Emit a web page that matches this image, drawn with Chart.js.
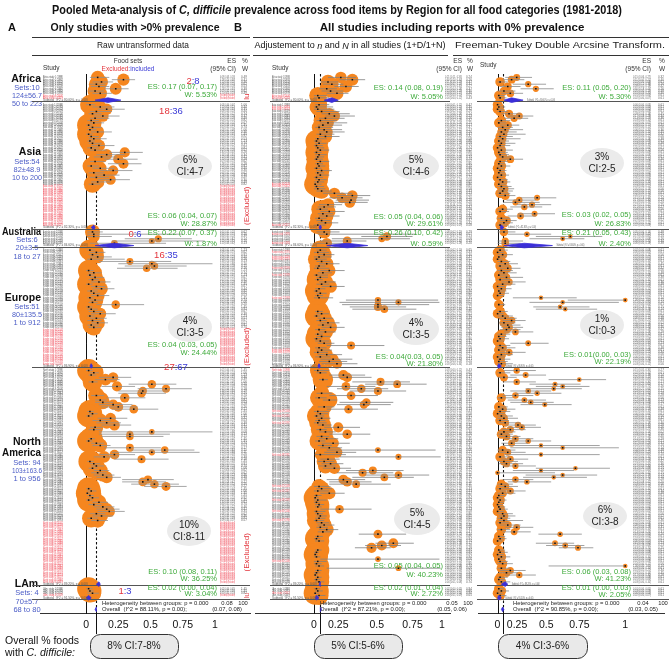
<!DOCTYPE html>
<html><head><meta charset="utf-8">
<script src="https://cdn.jsdelivr.net/npm/chart.js@4.4.1/dist/chart.umd.min.js"></script>
<style>
html,body{margin:0;padding:0;background:#fff}
#wrap{position:relative;width:669px;height:661px;overflow:hidden;background:#fff}
canvas{position:absolute;left:0;top:0}
</style></head><body>
<div id="wrap">
<canvas id="cT" width="669" height="661"></canvas>
<canvas id="cA" width="669" height="661"></canvas>
<canvas id="cB" width="669" height="661"></canvas>
<canvas id="cF" width="669" height="661"></canvas>
</div>
<script>
// ================= DATA =================
const regions = ['Africa','Asia','Australia','Europe','North America','LAm.'];
const regionStats = [['Sets:10','124±56.7','50 to 223'],['Sets:54','82±48.9','10 to 200'],['Sets:6','20±3.5','18 to 27'],['Sets:51','80±135.5','1 to 912'],['Sets: 94','103±163.6','1 to 956'],['Sets: 4','70±5.7','68 to 80']];
const tickLabels = ['0','0.25','0.5','0.75','1'];

// Panel A: raw data, included studies [ES, lower, upper]; excluded counts per region
const excludedA = [2,18,0,16,27,1];
const afrA = [[0.09,0.03,0.18],[0.29,0.20,0.38],[0.12,0.05,0.21],[0.08,0.03,0.15],[0.10,0.04,0.18],[0.23,0.14,0.33],[0.07,0.02,0.14],[0.11,0.05,0.20]];
const asiaA = [[0.03,0.00,0.07],[0.11,0.05,0.22],[0.16,0.09,0.30],[0.08,0.03,0.20],[0.05,0.02,0.12],[0.13,0.06,0.26],[0.07,0.03,0.18],[0.04,0.01,0.10],[0.06,0.03,0.14],[0.02,0.00,0.05],
 [0.05,0.02,0.12],[0.03,0.01,0.08],[0.09,0.04,0.20],[0.02,0.00,0.05],[0.04,0.02,0.10],[0.06,0.02,0.16],[0.03,0.01,0.07],[0.05,0.02,0.12],[0.10,0.04,0.22],[0.04,0.01,0.10],
 [0.07,0.03,0.16],[0.30,0.18,0.44],[0.16,0.08,0.30],[0.12,0.06,0.24],[0.25,0.14,0.40],[0.07,0.03,0.15],[0.29,0.17,0.43],[0.04,0.01,0.10],[0.11,0.05,0.22],[0.21,0.11,0.36],
 [0.06,0.02,0.14],[0.14,0.07,0.26],[0.08,0.03,0.18],[0.19,0.09,0.34],[0.09,0.04,0.19],[0.05,0.02,0.11]];
const ausA = [[0.05,0.01,0.13],[0.06,0.01,0.75],[0.06,0.01,0.20],[0.56,0.30,0.82],[0.51,0.20,0.92],[0.22,0.03,0.62]];
const eurA = [[0.03,0.01,0.07],[0.08,0.03,0.15],[0.05,0.02,0.10],[0.09,0.03,0.20],[0.04,0.01,0.30],[0.34,0.10,0.66],[0.51,0.25,0.98],[0.53,0.30,0.78],[0.47,0.24,0.71],[0.02,0.00,0.06],
 [0.06,0.02,0.12],[0.03,0.01,0.07],[0.07,0.03,0.14],[0.05,0.02,0.10],[0.10,0.04,0.19],[0.02,0.00,0.05],[0.08,0.04,0.15],[0.12,0.05,0.22],[0.04,0.01,0.09],[0.06,0.03,0.11],
 [0.09,0.04,0.18],[0.03,0.01,0.06],[0.07,0.03,0.13],[0.05,0.02,0.09],[0.23,0.08,0.45],[0.02,0.00,0.05],[0.04,0.01,0.09],[0.06,0.02,0.13],[0.11,0.04,0.23],[0.03,0.01,0.07],
 [0.08,0.03,0.16],[0.05,0.01,0.12],[0.09,0.04,0.17],[0.04,0.01,0.10],[0.06,0.02,0.12]];
const naA = [[0.02,0.00,0.05],[0.06,0.03,0.10],[0.04,0.02,0.08],[0.21,0.10,0.35],[0.15,0.07,0.26],[0.05,0.02,0.09],[0.51,0.33,0.70],[0.24,0.12,0.38],[0.62,0.40,0.82],[0.44,0.25,0.64],
 [0.43,0.25,0.62],[0.08,0.04,0.14],[0.30,0.16,0.46],[0.11,0.07,0.16],[0.13,0.07,0.21],[0.21,0.10,0.36],[0.25,0.12,0.40],[0.37,0.20,0.56],[0.03,0.01,0.06],[0.05,0.02,0.09],
 [0.02,0.00,0.05],[0.19,0.09,0.32],[0.11,0.05,0.19],[0.16,0.08,0.27],[0.22,0.12,0.35],[0.07,0.03,0.13],[0.06,0.02,0.12],[0.51,0.10,0.98],[0.34,0.10,0.65],[0.34,0.12,0.60],
 [0.04,0.02,0.07],[0.02,0.00,0.05],[0.08,0.04,0.14],[0.11,0.05,0.19],[0.34,0.14,0.58],[0.61,0.35,0.84],[0.51,0.20,0.88],[0.22,0.10,0.38],[0.14,0.06,0.25],[0.43,0.22,0.64],
 [0.03,0.01,0.06],[0.06,0.03,0.11],[0.08,0.04,0.14],[0.05,0.02,0.09],[0.11,0.06,0.18],[0.09,0.04,0.16],[0.13,0.06,0.22],[0.16,0.08,0.27],[0.48,0.28,0.68],[0.44,0.28,0.62],
 [0.53,0.35,0.72],[0.62,0.45,0.78],[0.02,0.00,0.04],[0.04,0.01,0.08],[0.01,0.00,0.03],[0.03,0.01,0.06],[0.05,0.02,0.10],[0.02,0.00,0.05],[0.10,0.05,0.17],[0.06,0.02,0.12],
 [0.13,0.06,0.22],[0.16,0.08,0.26],[0.18,0.09,0.30],[0.08,0.03,0.15],[0.12,0.05,0.21],[0.04,0.01,0.09],[0.09,0.04,0.17]];
const lamA = [[0.02,0.00,0.05],[0.03,0.01,0.06],[0.05,0.01,0.10]];

// Panel B1: adjusted (1+D)/(1+N), all studies [ES, lower, upper, zeroPrevalenceFlag]
const afrB = [[0.21,0.11,0.33,0],[0.30,0.20,0.40,0],[0.11,0.05,0.19,0],[0.14,0.07,0.23,0],[0.25,0.16,0.35,0],[0.10,0.04,0.18,0],[0.13,0.06,0.23,0],[0.18,0.10,0.27,0],[0.03,0.00,0.10,1],[0.04,0.00,0.12,1]];
const asiaB = [[0.04,0.01,0.12,0],[0.02,0.00,0.15,1],[0.03,0.00,0.16,1],[0.06,0.02,0.20,0],[0.12,0.06,0.28,0],[0.16,0.09,0.32,0],[0.09,0.04,0.24,0],[0.05,0.02,0.18,0],[0.11,0.05,0.26,0],[0.07,0.03,0.22,0],
 [0.04,0.01,0.15,0],[0.08,0.03,0.22,0],[0.10,0.04,0.24,0],[0.05,0.02,0.16,0],[0.09,0.04,0.20,0],[0.03,0.01,0.10,0],[0.02,0.00,0.06,0],[0.04,0.01,0.10,0],[0.02,0.00,0.07,0],[0.03,0.01,0.08,0],
 [0.05,0.02,0.12,0],[0.02,0.00,0.06,0],[0.04,0.01,0.10,0],[0.03,0.01,0.08,0],[0.02,0.00,0.07,0],[0.05,0.02,0.12,0],[0.03,0.01,0.07,0],[0.04,0.02,0.09,0],[0.02,0.00,0.06,0],[0.06,0.02,0.14,0],
 [0.03,0.01,0.08,0],[0.05,0.02,0.12,0],[0.02,0.00,0.07,0],[0.04,0.01,0.10,0],[0.03,0.00,0.08,0],[0.01,0.00,0.06,1],[0.02,0.00,0.08,1],[0.03,0.00,0.09,0],[0.06,0.02,0.14,0],[0.16,0.07,0.30,0],
 [0.30,0.18,0.44,0],[0.22,0.12,0.38,0],[0.29,0.17,0.43,0],[0.28,0.16,0.42,0],[0.11,0.04,0.22,0],[0.08,0.03,0.17,0],[0.05,0.02,0.11,0],[0.12,0.05,0.24,0],[0.07,0.03,0.15,0],[0.10,0.04,0.20,0],
 [0.04,0.01,0.10,0],[0.06,0.02,0.13,0],[0.09,0.03,0.19,0],[0.03,0.00,0.09,1]];
const ausB = [[0.08,0.02,0.20,0],[0.10,0.03,0.80,1],[0.57,0.37,0.77,0],[0.53,0.14,0.75,0],[0.26,0.05,0.41,0],[0.10,0.02,0.28,1]];
const eurB = [[0.05,0.02,0.10,0],[0.03,0.00,0.12,1],[0.08,0.03,0.16,0],[0.04,0.00,0.14,1],[0.02,0.00,0.10,1],[0.06,0.02,0.13,0],[0.10,0.04,0.20,0],[0.04,0.01,0.09,0],[0.03,0.00,0.12,1],[0.12,0.05,0.24,0],
 [0.07,0.03,0.14,0],[0.02,0.00,0.11,1],[0.05,0.02,0.11,0],[0.03,0.01,0.07,0],[0.09,0.04,0.17,0],[0.06,0.02,0.12,0],[0.13,0.06,0.24,0],[0.04,0.01,0.09,0],[0.02,0.00,0.05,0],[0.05,0.02,0.10,0],
 [0.03,0.01,0.07,0],[0.04,0.00,0.15,1],[0.50,0.25,0.97,0],[0.66,0.20,0.98,0],[0.50,0.22,0.90,0],[0.50,0.28,0.72,0],[0.55,0.30,0.80,0],[0.03,0.01,0.07,0],[0.06,0.02,0.12,0],[0.02,0.00,0.05,0],
 [0.08,0.03,0.15,0],[0.05,0.02,0.10,0],[0.11,0.05,0.20,0],[0.07,0.03,0.14,0],[0.13,0.06,0.24,0],[0.04,0.01,0.09,0],[0.09,0.04,0.17,0],[0.03,0.01,0.07,0],[0.06,0.02,0.13,0],[0.02,0.00,0.06,0],
 [0.05,0.01,0.12,0],[0.08,0.03,0.16,0],[0.29,0.10,0.55,0],[0.04,0.01,0.10,0],[0.06,0.02,0.14,1],[0.03,0.00,0.11,1],[0.10,0.03,0.22,0],[0.05,0.01,0.13,0],[0.15,0.05,0.30,0],[0.12,0.04,0.26,0],
 [0.18,0.06,0.34,0]];
const naB = [[0.03,0.00,0.12,1],[0.05,0.02,0.10,0],[0.23,0.12,0.40,0],[0.26,0.14,0.45,0],[0.07,0.04,0.11,0],[0.52,0.30,0.75,0],[0.65,0.40,0.88,0],[0.25,0.10,0.48,0],[0.37,0.18,0.58,0],[0.50,0.28,0.72,0],
 [0.06,0.02,0.14,0],[0.29,0.12,0.50,0],[0.04,0.01,0.10,0],[0.12,0.07,0.18,0],[0.41,0.20,0.62,0],[0.39,0.18,0.60,0],[0.08,0.03,0.16,0],[0.27,0.10,0.50,0],[0.03,0.00,0.12,1],[0.05,0.02,0.11,0],
 [0.02,0.00,0.08,1],[0.06,0.02,0.13,0],[0.04,0.01,0.09,0],[0.03,0.00,0.10,1],[0.07,0.03,0.14,0],[0.19,0.08,0.36,0],[0.05,0.02,0.10,0],[0.09,0.04,0.17,0],[0.26,0.12,0.44,0],[0.06,0.02,0.12,0],
 [0.10,0.04,0.19,0],[0.04,0.01,0.09,0],[0.15,0.06,0.28,0],[0.07,0.03,0.14,0],[0.12,0.05,0.22,0],[0.50,0.10,0.95,0],[0.18,0.08,0.33,0],[0.05,0.01,0.25,1],[0.66,0.20,0.99,0],[0.11,0.05,0.20,0],
 [0.08,0.03,0.16,0],[0.13,0.06,0.23,0],[0.09,0.04,0.17,0],[0.16,0.07,0.29,0],[0.46,0.25,0.70,0],[0.38,0.18,0.62,0],[0.66,0.40,0.90,0],[0.55,0.30,0.78,0],[0.23,0.10,0.40,0],[0.26,0.12,0.45,0],
 [0.33,0.12,0.60,0],[0.04,0.00,0.13,1],[0.06,0.02,0.14,0],[0.03,0.00,0.12,1],[0.12,0.05,0.24,0],[0.02,0.00,0.06,0],[0.01,0.00,0.04,0],[0.03,0.00,0.10,1],[0.02,0.00,0.05,0],[0.04,0.01,0.08,0],
 [0.03,0.01,0.06,0],[0.20,0.05,0.45,0],[0.02,0.00,0.09,1],[0.03,0.01,0.07,0],[0.05,0.02,0.10,0],[0.04,0.01,0.09,0],[0.02,0.00,0.08,1],[0.06,0.02,0.12,0],[0.08,0.03,0.16,0],[0.05,0.02,0.11,0],
 [0.10,0.04,0.19,0],[0.07,0.03,0.14,0],[0.50,0.35,0.72,0],[0.03,0.01,0.07,0],[0.02,0.00,0.05,0],[0.04,0.01,0.08,0],[0.62,0.48,0.78,0],[0.53,0.40,0.68,0],[0.45,0.32,0.60,0],[0.03,0.01,0.06,0],
 [0.02,0.00,0.04,0],[0.01,0.00,0.03,0],[0.02,0.00,0.05,0],[0.50,0.05,0.98,0],[0.03,0.00,0.10,1],[0.02,0.00,0.06,0],[0.04,0.01,0.08,0],[0.66,0.10,0.99,0],[0.03,0.01,0.06,0],[0.02,0.00,0.05,0],
 [0.01,0.00,0.03,0],[0.03,0.01,0.06,0],[0.02,0.00,0.05,0],[0.04,0.01,0.08,0]];
const lamB = [[0.02,0.00,0.05,0],[0.03,0.01,0.07,0],[0.01,0.00,0.04,1],[0.04,0.01,0.09,0]];

// Panel B2: Freeman-Tukey double arcsine, all studies [ES, lower, upper]
const afrF = [[0.15,0.06,0.27],[0.11,0.04,0.21],[0.02,0.00,0.08],[0.24,0.12,0.38],[0.08,0.02,0.18],[0.30,0.18,0.44],[0.05,0.00,0.14],[0.10,0.03,0.20],[0.01,0.00,0.06],[0.02,0.00,0.07]];
const asiaF = [[0.00,0.00,0.03],[0.01,0.00,0.06],[0.00,0.00,0.05],[0.02,0.00,0.08],[0.09,0.03,0.18],[0.17,0.08,0.28],[0.13,0.05,0.24],[0.03,0.00,0.10],[0.01,0.00,0.07],[0.08,0.02,0.17],
 [0.04,0.00,0.12],[0.06,0.01,0.20],[0.03,0.00,0.15],[0.05,0.01,0.22],[0.02,0.00,0.12],[0.04,0.00,0.18],[0.01,0.00,0.09],[0.03,0.00,0.14],[0.02,0.00,0.10],[0.00,0.00,0.06],
 [0.03,0.00,0.12],[0.01,0.00,0.08],[0.02,0.00,0.09],[0.04,0.01,0.11],[0.10,0.03,0.20],[0.02,0.00,0.08],[0.01,0.00,0.06],[0.03,0.00,0.10],[0.00,0.00,0.05],[0.02,0.00,0.07],
 [0.01,0.00,0.06],[0.03,0.00,0.09],[0.00,0.00,0.04],[0.02,0.00,0.08],[0.04,0.01,0.10],[0.01,0.00,0.07],[0.03,0.00,0.11],[0.05,0.01,0.13],[0.04,0.00,0.12],[0.02,0.00,0.10],
 [0.06,0.01,0.14],[0.31,0.18,0.46],[0.17,0.07,0.30],[0.14,0.05,0.33],[0.27,0.15,0.42],[0.21,0.10,0.35],[0.04,0.00,0.12],[0.02,0.00,0.09],[0.29,0.16,0.45],[0.18,0.08,0.30],
 [0.03,0.00,0.10],[0.07,0.02,0.15],[0.05,0.01,0.12],[0.02,0.00,0.08]];
const ausF = [[0.05,0.00,0.14],[0.23,0.08,0.42],[0.57,0.30,0.82],[0.51,0.25,0.68],[0.06,0.00,0.20],[0.06,0.00,0.18]];
const eurF = [[0.02,0.00,0.08],[0.00,0.00,0.05],[0.04,0.00,0.12],[0.01,0.00,0.07],[0.00,0.00,0.04],[0.03,0.00,0.10],[0.06,0.01,0.16],[0.02,0.00,0.09],[0.08,0.02,0.18],[0.03,0.00,0.12],
 [0.05,0.01,0.15],[0.01,0.00,0.08],[0.07,0.02,0.20],[0.02,0.00,0.10],[0.09,0.03,0.22],[0.04,0.00,0.14],[0.00,0.00,0.06],[0.03,0.00,0.11],[0.01,0.00,0.07],[0.02,0.00,0.09],
 [0.00,0.00,0.05],[0.34,0.12,0.62],[1.00,0.55,1.00],[0.51,0.25,0.95],[0.01,0.00,0.06],[0.49,0.28,0.72],[0.53,0.30,0.78],[0.02,0.00,0.08],[0.00,0.00,0.05],[0.04,0.00,0.12],
 [0.06,0.01,0.15],[0.11,0.04,0.22],[0.05,0.01,0.14],[0.08,0.02,0.18],[0.09,0.03,0.20],[0.07,0.02,0.18],[0.14,0.05,0.28],[0.03,0.00,0.10],[0.01,0.00,0.07],[0.02,0.00,0.09],
 [0.00,0.00,0.05],[0.24,0.10,0.40],[0.02,0.00,0.10],[0.04,0.00,0.14],[0.01,0.00,0.08],[0.09,0.02,0.22],[0.03,0.00,0.12],[0.00,0.00,0.06],[0.02,0.00,0.10],[0.01,0.00,0.08],
 [0.03,0.00,0.12]];
const naF = [[0.15,0.05,0.30],[0.02,0.00,0.10],[0.22,0.10,0.38],[0.05,0.00,0.15],[0.64,0.40,0.85],[0.15,0.05,0.30],[0.45,0.25,0.65],[0.51,0.30,0.72],[0.44,0.22,0.66],[0.24,0.10,0.42],
 [0.31,0.14,0.50],[0.14,0.04,0.28],[0.03,0.00,0.12],[0.21,0.08,0.38],[0.26,0.10,0.44],[0.37,0.18,0.58],[0.01,0.00,0.08],[0.04,0.00,0.14],[0.02,0.00,0.10],[0.00,0.00,0.06],
 [0.03,0.00,0.12],[0.05,0.00,0.16],[0.02,0.00,0.09],[0.06,0.01,0.18],[0.16,0.06,0.30],[0.19,0.08,0.34],[0.10,0.03,0.22],[0.05,0.01,0.14],[0.03,0.00,0.12],[0.07,0.01,0.18],
 [0.14,0.05,0.28],[0.24,0.10,0.42],[0.11,0.03,0.24],[0.34,0.05,0.80],[0.51,0.10,0.95],[0.04,0.00,0.14],[0.08,0.01,0.22],[0.34,0.05,0.80],[0.02,0.00,0.10],[0.10,0.03,0.24],
 [0.05,0.00,0.16],[0.07,0.01,0.20],[0.14,0.04,0.30],[0.61,0.30,0.88],[0.34,0.12,0.60],[0.00,0.00,0.45],[0.51,0.22,0.78],[0.44,0.20,0.70],[0.14,0.04,0.28],[0.23,0.08,0.42],
 [0.03,0.00,0.12],[0.06,0.01,0.16],[0.02,0.00,0.10],[0.10,0.02,0.22],[0.04,0.00,0.14],[0.01,0.00,0.06],[0.00,0.00,0.04],[0.02,0.00,0.07],[0.01,0.00,0.05],[0.00,0.00,0.04],
 [0.01,0.00,0.06],[0.02,0.00,0.08],[0.00,0.00,0.05],[0.04,0.00,0.12],[0.05,0.01,0.14],[0.03,0.00,0.10],[0.05,0.01,0.20],[0.02,0.00,0.09],[0.08,0.02,0.18],[0.15,0.06,0.28],
 [0.03,0.00,0.10],[0.13,0.04,0.26],[0.49,0.32,0.66],[0.01,0.00,0.06],[0.02,0.00,0.07],[0.00,0.00,0.04],[0.45,0.30,0.60],[0.53,0.38,0.68],[0.63,0.48,0.75],[0.01,0.00,0.06],
 [0.02,0.00,0.08],[0.00,0.00,0.05],[0.03,0.00,0.10],[0.01,0.00,0.06],[0.02,0.00,0.08],[0.04,0.00,0.12],[1.00,0.40,1.00],[0.03,0.00,0.10],[0.10,0.02,0.22],[0.07,0.01,0.16],
 [0.17,0.06,0.30],[0.02,0.00,0.08],[0.01,0.00,0.06],[0.03,0.00,0.10]];
const lamF = [[0.01,0.00,0.05],[0.03,0.00,0.09],[0.00,0.00,0.04],[0.02,0.00,0.07]];

// Subgroup pooled estimates [ES, lower, upper] and texts
const pooledA = [[0.17,0.07,0.27],[0.06,0.04,0.07],[0.22,0.07,0.37],[0.04,0.03,0.05],[0.10,0.08,0.11],[0.02,0.00,0.04]];
const pooledB = [[0.14,0.08,0.19],[0.05,0.04,0.06],[0.26,0.10,0.42],[0.04,0.03,0.05],[0.05,0.04,0.05],[0.02,0.01,0.04]];
const pooledF = [[0.11,0.05,0.20],[0.03,0.02,0.05],[0.21,0.05,0.43],[0.01,0.00,0.03],[0.06,0.03,0.08],[0.01,0.00,0.03]];
const overallA = [0.08,0.07,0.08], overallB = [0.05,0.05,0.06], overallF = [0.04,0.03,0.05];
const esTextA = ['ES: 0.17 (0.07, 0.17)','ES: 0.06 (0.04, 0.07)','ES: 0.22 (0.07, 0.37)','ES: 0.04 (0.03, 0.05)','ES: 0.10 (0.08, 0.11)','ES: 0.02 (0.00, 0.04)'];
const wTextA = ['W: 5.53%','W: 28.87%','W: 1.87%','W: 24.44%','W: 36.25%','W: 3.04%'];
const esTextB = ['ES: 0.14 (0.08, 0.19)','ES: 0.05 (0.04, 0.06)','ES: 0.26 (0.10, 0.42)','ES: 0.04(0.03, 0.05)','ES: 0.05 (0.04, 0.05)','ES: 0.02 (0.01, 0.04)'];
const wTextB = ['W: 5.05%','W: 29.61%','W: 0.59%','W: 21.80%','W: 40.23%','W: 2.72%'];
const esTextF = ['ES: 0.11 (0.05, 0.20)','ES: 0.03 (0.02, 0.05)','ES: 0.21 (0.05, 0.43)','ES: 0.01(0.00, 0.03)','ES: 0.06 (0.03, 0.08)','ES: 0.01 (0.00, 0.03)'];
const wTextF = ['W: 5.30%','W: 26.83%','W: 2.40%','W: 22.19%','W: 41.23%','W: 2.05%'];
const bubbleTextA = [['6%','CI:4-7'],['4%','CI:3-5'],['10%','CI:8-11']];
const bubbleTextB = [['5%','CI:4-6'],['4%','CI:3-5'],['5%','CI:4-5']];
const bubbleTextF = [['3%','CI:2-5'],['1%','CI:0-3'],['6%','CI:3-8']];
const overallBoxText = ['8% CI:7-8%','5% CI:5-6%','4% CI:3-6%'];
const i2Text = ['88.11','87.21','90.85'];
const overallCIText = ['(0.07, 0.08)','(0.05, 0.06)','(0.03, 0.05)'];
const overallESText = ['0.08','0.05','0.04'];

// ================= RENDERING =================
const FONT = '"Liberation Sans", Arial, Helvetica, sans-serif';
const F = (s, w) => (w ? w + ' ' : '') + s + 'px ' + FONT;
const ORANGE = '#f5861f', RED = '#e3343c', BLUE = '#3a3ad6', SBLUE = '#4b5cc6', GREEN = '#3daa3a', DIAM = '#3b2fd8';
const TOTAL_ROWS = 237.6, HET_ROW = 232.4, OVERALL_ROW = 235.6, TOP = 74;
Chart.defaults.font.family = 'Liberation Sans';

// draws text segments; targetW forces a width, maxW only shrinks
function rich(ctx, segs, x, y, align, targetW, maxW) {
  let total = 0;
  const ws = segs.map(s => { ctx.font = s.font; const w = ctx.measureText(s.t).width; total += w; return w; });
  let sc = targetW ? targetW / total : 1;
  if (maxW && total * sc > maxW) sc = maxW / total;
  const x0 = align === 'center' ? x - total * sc / 2 : align === 'right' ? x - total * sc : x;
  ctx.save(); ctx.translate(x0, y); ctx.scale(sc, 1); ctx.textBaseline = 'middle'; ctx.textAlign = 'left';
  let cx = 0;
  segs.forEach((s, i) => { ctx.font = s.font; ctx.fillStyle = s.color || '#111'; ctx.fillText(s.t, cx, 0); cx += ws[i]; });
  ctx.restore();
}
function txt(ctx, t, x, y, font, color, align, w, maxW) { rich(ctx, [{t, font, color}], x, y, align, w, maxW); }
function hline(ctx, x1, x2, y, col, lw) { ctx.save(); ctx.strokeStyle = col || '#333'; ctx.lineWidth = lw || 1; ctx.beginPath(); ctx.moveTo(x1, Math.round(y) + 0.5); ctx.lineTo(x2, Math.round(y) + 0.5); ctx.stroke(); ctx.restore(); }

// ---------- static text layer ----------
(function () {
  const c = document.getElementById('cT').getContext('2d');
  rich(c, [{t:'Pooled Meta-analysis of ', font:F(12,'bold')}, {t:'C, difficile', font:F(12,'italic bold')}, {t:' prevalence across food items by Region for all food categories (1981-2018)', font:F(12,'bold')}], 337, 11, 'center', 570);
  txt(c, 'A', 8, 28, F(11,'bold'), '#111', 'left');
  txt(c, 'Only studies with >0% prevalence', 135, 28, F(10.5,'bold'), '#111', 'center');
  txt(c, 'B', 234, 28, F(11,'bold'), '#111', 'left');
  txt(c, 'All studies including reports with 0% prevalence', 452, 28, F(11.5,'bold'), '#111', 'center');
  hline(c, 32, 250, 37); hline(c, 253, 669, 37);
  txt(c, 'Raw untransformed data', 143, 46, F(9), '#222', 'center', 92);
  rich(c, [{t:'Adjustement to ', font:F(9)}, {t:'n', font:F(9,'italic')}, {t:' and ', font:F(9)}, {t:'N', font:F(9,'italic')}, {t:' in all studies (1+D/1+N)', font:F(9)}], 350, 46, 'center', 191);
  txt(c, 'Freeman-Tukey Double Arcsine Transform.', 560, 46, F(9), '#222', 'center', 210);
  hline(c, 32, 250, 55); hline(c, 253, 448, 55); hline(c, 453, 669, 55);
  const hf = F(6.5);
  txt(c, 'Study', 43, 68, hf, '#333', 'left');
  txt(c, 'Food sets', 128, 61, hf, '#333', 'center');
  rich(c, [{t:'Excluded', font:hf, color:RED}, {t:':included', font:hf, color:BLUE}], 128, 69, 'center');
  txt(c, 'ES', 236, 61, hf, '#333', 'right'); txt(c, '(95% CI)', 236, 69, hf, '#333', 'right');
  txt(c, '%', 245, 61, hf, '#333', 'center'); txt(c, 'W', 245, 69, hf, '#333', 'center');
  txt(c, 'Study', 272, 68, hf, '#333', 'left');
  txt(c, 'ES', 462, 61, hf, '#333', 'right'); txt(c, '(95% CI)', 462, 69, hf, '#333', 'right');
  txt(c, '%', 470, 61, hf, '#333', 'center'); txt(c, 'W', 470, 69, hf, '#333', 'center');
  txt(c, 'Study', 480, 65, hf, '#333', 'left');
  txt(c, 'ES', 651, 61, hf, '#333', 'right'); txt(c, '(95% CI)', 651, 69, hf, '#333', 'right');
  txt(c, '%', 662, 61, hf, '#333', 'center'); txt(c, 'W', 662, 69, hf, '#333', 'center');
  const REG_LAB = [[['Africa'],[79],[88,96,104]], [['Asia'],[152],[162,170,178]], [['Australia'],[232],[240,248,257]],
                   [['Europe'],[298],[307,315,323]], [['North','America'],[442,453],[463,471,479]], [['LAm.'],[584],[593,602,610]]];
  REG_LAB.forEach((r, k) => {
    r[0].forEach((nm, j) => txt(c, nm, 41, r[1][j], F(10.5,'bold'), '#111', 'right', null, 39));
    regionStats[k].forEach((s, j) => txt(c, s, 27, r[2][j], F(7.5), SBLUE, 'center', null, 30));
  });
  txt(c, 'Overall % foods', 5, 641, F(10.5), '#111', 'left');
  rich(c, [{t:'with ', font:F(10.5)}, {t:'C. difficile:', font:F(10.5,'italic')}], 5, 653, 'left');
})();

// ---------- panels ----------
function buildRows(lists, excl) {
  let idx = 0; const rows = [], bounds = [], sum = [], exclRange = [];
  lists.forEach((list, k) => {
    idx++;
    list.forEach((d, i) => { rows.push({k, idx, d, n: i + 1}); idx++; });
    const e0 = idx;
    for (let e = 0; e < (excl ? excl[k] : 0); e++) { rows.push({k, idx, d: null, n: list.length + e + 1}); idx++; }
    exclRange.push([e0, idx]);
    sum.push(idx); idx++;
    bounds.push(idx);
  });
  return {rows, bounds, sum, exclRange};
}

function makePanel(P) {
  const R = buildRows(P.lists, P.excl);
  const bub = [], dots = [], ci = [];
  let wsum = 0;
  R.rows.forEach(r => {
    if (!r.d) return;
    const [es, lo, hi] = r.d; const yv = r.idx + 0.5;
    const rad = Math.min(P.rMax, Math.max(P.rMin, P.rK / Math.sqrt(Math.max(hi - lo, 0.01))));
    r.rad = rad; wsum += rad * rad;
    bub.push({x: es, y: yv, r: rad}); dots.push({x: es, y: yv});
    ci.push({x: lo, y: yv}, {x: hi, y: yv}, {x: null, y: null});
  });
  R.rows.forEach(r => { if (r.d) r.w = (100 * r.rad * r.rad / wsum).toFixed(2); });

  const plugin = {
    id: 'pp' + P.id,
    beforeDatasetsDraw(chart) {
      const c = chart.ctx, xs = chart.scales.x, ys = chart.scales.y, ca = chart.chartArea;
      c.save(); c.fillStyle = '#ebebeb';
      P.ellipses.forEach(e => { c.beginPath(); c.ellipse(e[0], e[1], e[2], e[3], 0, 0, Math.PI * 2); c.fill(); });
      c.restore();
      const x0 = Math.round(xs.getPixelForValue(0)) + 0.5;
      const xo = Math.round(xs.getPixelForValue(P.overall[0])) + 0.5;
      c.save(); c.strokeStyle = '#111'; c.lineWidth = 1;
      c.beginPath(); c.moveTo(x0, ca.top); c.lineTo(x0, ca.bottom); c.stroke();
      c.setLineDash([2.5, 2]); c.lineWidth = 1.1;
      c.beginPath(); c.moveTo(xo, ca.top); c.lineTo(xo, ys.getPixelForValue(OVERALL_ROW)); c.stroke();
      c.setLineDash([]); c.lineWidth = 1;
      c.beginPath(); c.moveTo(xo, ys.getPixelForValue(OVERALL_ROW)); c.lineTo(xo, P.box[1]); c.stroke();
      c.restore();
    },
    afterDatasetsDraw(chart) {
      const c = chart.ctx, xs = chart.scales.x, ys = chart.scales.y;
      const X = v => xs.getPixelForValue(v), Y = v => ys.getPixelForValue(v);
      R.bounds.forEach(b => hline(c, P.lineL, P.lineR, Y(b), '#555', 1));
      const diamond = (d, yc) => {
        c.save(); c.fillStyle = DIAM; c.beginPath();
        c.moveTo(X(d[1]), yc); c.lineTo(X(d[0]), yc - 2.3); c.lineTo(X(d[2]), yc); c.lineTo(X(d[0]), yc + 2.3); c.closePath(); c.fill();
        c.strokeStyle = DIAM; c.lineWidth = 0.8; c.stroke(); c.restore();
      };
      P.pooled.forEach((d, k) => {
        diamond(d, Y(R.sum[k] + 0.5));
        c.save(); c.font = F(3); c.fillStyle = '#555'; c.textBaseline = 'middle';
        const st = 'Subtotal  (I^2 = ' + (80 + k * 2.3).toFixed(2) + '%, p = 0.00)';
        if (P.labelX != null) c.fillText(st, P.labelX, Y(R.sum[k] + 0.5), 45);
        else c.fillText(st, X(d[2]) + 4, Y(R.sum[k] + 0.5), 28);
        c.restore();
      });
      diamond(P.overall, Y(OVERALL_ROW));
      c.save(); c.textBaseline = 'middle';
      R.rows.forEach(r => {
        const y = Y(r.idx + 0.5), d = r.d;
        const red = !d || d[3] === 1;
        if (P.labelX != null) {
          c.font = F(3.3); c.fillStyle = red ? '#ee4d5a' : '#555';
          c.fillText(regions[r.k].split(' ')[0] + ' study ' + r.n + ' (' + (1981 + (r.n * 7) % 38) + ')', P.labelX, y, P.labelW);
        }
        c.font = F(3.1);
        if (d) {
          c.fillStyle = '#666';
          c.fillText(d[0].toFixed(2) + ' (' + d[1].toFixed(2) + ', ' + d[2].toFixed(2) + ')', P.esX, y, P.esW);
          c.fillText(r.w, P.wX, y, P.wW);
        } else {
          c.fillStyle = '#ee4d5a';
          c.fillText('(Excluded) (Excluded)', P.esX, y, P.esW);
        }
      });
      c.restore();
      P.esText.forEach((t, k) => {
        txt(c, t, P.esRight, P.esY[k], F(7.5), GREEN, 'right');
        txt(c, P.wText[k], P.esRight, P.wY[k], F(7.5), GREEN, 'right');
      });
      P.ellipses.forEach((e, i) => {
        txt(c, P.bubbleText[i][0], e[0], e[1] - 6, F(10), '#222', 'center');
        txt(c, P.bubbleText[i][1], e[0], e[1] + 6.5, F(10), '#222', 'center');
      });
      (P.ratios || []).forEach((q, k) => {
        rich(c, [{t: String(excludedA[k]), font: F(9.5), color: RED}, {t: ':' + P.lists[k].length, font: F(9.5), color: BLUE}], q[0], q[1], 'center');
      });
      if (P.exclLabelX) {
        R.exclRange.forEach(er => {
          if (er[1] <= er[0]) return;
          const y1 = Y(er[0]) - 1, y2 = Y(er[1]) + 1;
          c.save(); c.beginPath(); c.rect(P.exclLabelX - 6, y1, 12, y2 - y1); c.clip();
          c.translate(P.exclLabelX, (y1 + y2) / 2); c.rotate(-Math.PI / 2);
          c.font = F(8); c.fillStyle = RED; c.textAlign = 'center'; c.textBaseline = 'middle';
          c.fillText('(Excluded)', 0, 0); c.restore();
        });
      }
      const hy = Y(HET_ROW + 0.5), oy = Y(OVERALL_ROW);
      txt(c, 'Heterogeneity between groups: p = 0.000', P.hetX, hy, F(5.8), '#222', 'left');
      txt(c, 'Overall  (I^2 = ' + i2Text[P.pi] + '%, p = 0.00);', P.hetX, oy, F(5.8), '#222', 'left');
      txt(c, overallESText[P.pi], P.ovES, hy, F(5.8), '#222', 'center');
      txt(c, '100', P.ovW, hy, F(5.8), '#222', 'center');
      txt(c, overallCIText[P.pi], P.ovES, oy, F(5.8), '#222', 'center');
      const [bx, by, bw, bh] = P.box;
      c.save(); c.beginPath(); c.roundRect(bx + 0.5, by + 0.5, bw, bh, 10); c.fillStyle = '#e9e9e9'; c.fill();
      c.strokeStyle = '#333'; c.lineWidth = 1; c.stroke(); c.restore();
      txt(c, overallBoxText[P.pi], bx + bw / 2, by + bh / 2 + 0.5, F(10), '#222', 'center');
    }
  };

  new Chart(document.getElementById(P.id), {
    type: 'bubble',
    data: { datasets: [
      {type: 'scatter', data: dots, pointStyle: 'rect', pointRadius: 1.1, backgroundColor: '#111', borderWidth: 0, order: 0, clip: false},
      {type: 'line', data: ci, borderColor: P.ciColor, borderWidth: 0.8, pointRadius: 0, spanGaps: false, fill: false, order: 1, clip: false},
      {type: 'bubble', data: bub, backgroundColor: ORANGE, borderWidth: 0, order: 2, clip: false}
    ]},
    options: {
      responsive: false, animation: false, events: [],
      layout: {padding: {left: P.padL, right: P.padR, top: TOP, bottom: 24.5}},
      plugins: {legend: {display: false}, tooltip: {enabled: false}},
      scales: {
        x: {type: 'linear', min: P.xMin, max: P.xMax,
            grid: {display: false, drawTicks: false}, border: {display: true, color: '#333', width: 1},
            afterBuildTicks: s => { s.ticks = P.ticks.map(v => ({value: v})); },
            ticks: {autoSkip: false, maxRotation: 0, padding: 5, color: '#111', font: {size: 10.5, family: 'Liberation Sans'},
                    callback: (v, i) => tickLabels[i]}},
        y: {type: 'linear', reverse: true, min: 0, max: TOTAL_ROWS, display: false}
      }
    },
    plugins: [plugin]
  });
}

makePanel({id: 'cA', pi: 0, lists: [afrA, asiaA, ausA, eurA, naA, lamA], excl: excludedA,
  xMin: -0.357, xMax: 1.271, padL: 40, padR: 419, ticks: [0, 0.25, 0.5, 0.75, 1],
  rK: 2.6, rMin: 2, rMax: 11.5, ciColor: '#8f8f8f',
  labelX: 43, labelW: 20, esX: 220, esW: 15, wX: 241, wW: 7, lineL: 32, lineR: 250,
  pooled: pooledA, overall: overallA, esText: esTextA, wText: wTextA, esRight: 217,
  esY: [87, 216, 233, 345, 572, 588], wY: [95, 224, 244, 353, 579, 594],
  ellipses: [[190, 166, 22, 13], [190, 327, 22, 15], [189, 531, 22, 15]], bubbleText: bubbleTextA,
  ratios: [[193, 81], [171, 111], [135, 234], [166, 255], [176, 367], [125, 591]],
  exclLabelX: 247, hetX: 102, ovES: 227, ovW: 243, box: [90, 634, 88, 24]});

makePanel({id: 'cB', pi: 1, lists: [afrB, asiaB, ausB, eurB, naB, lamB], excl: null,
  xMin: -0.46, xMax: 1.0625, padL: 255, padR: 219, ticks: [0, 0.19, 0.49, 0.77, 1],
  rK: 2.7, rMin: 2, rMax: 11.5, ciColor: '#808080',
  labelX: 272, labelW: 18, esX: 445, esW: 17, wX: 466, wW: 6, lineL: 270, lineR: 450,
  pooled: pooledB, overall: overallB, esText: esTextB, wText: wTextB, esRight: 443,
  esY: [88, 217, 233, 357, 566, 588], wY: [97, 224, 244, 364, 575, 594],
  ellipses: [[416, 166, 23, 14], [416, 329, 23, 16], [417, 519, 23, 16]], bubbleText: bubbleTextB,
  hetX: 320, ovES: 452, ovW: 468, box: [314, 634, 88, 24]});

makePanel({id: 'cF', pi: 2, lists: [afrF, asiaF, ausF, eurF, naF, lamF], excl: null,
  xMin: -0.153, xMax: 1.305, padL: 478, padR: 0, ticks: [0, 0.153, 0.382, 0.641, 1],
  rK: 1.6, rMin: 2.3, rMax: 4.8, ciColor: '#8a8a8a',
  labelX: null, esX: 633, esW: 18, wX: 658, wW: 7, lineL: 477, lineR: 669,
  pooled: pooledF, overall: overallF, esText: esTextF, wText: wTextF, esRight: 631,
  esY: [88, 215, 233, 355, 572, 588], wY: [97, 224, 244, 362, 579, 595],
  ellipses: [[602, 163, 22, 15], [602, 325, 22, 15], [605, 516, 22, 14]], bubbleText: bubbleTextF,
  hetX: 513, ovES: 643, ovW: 663, box: [498, 634, 89, 24]});
</script>
</body></html>
